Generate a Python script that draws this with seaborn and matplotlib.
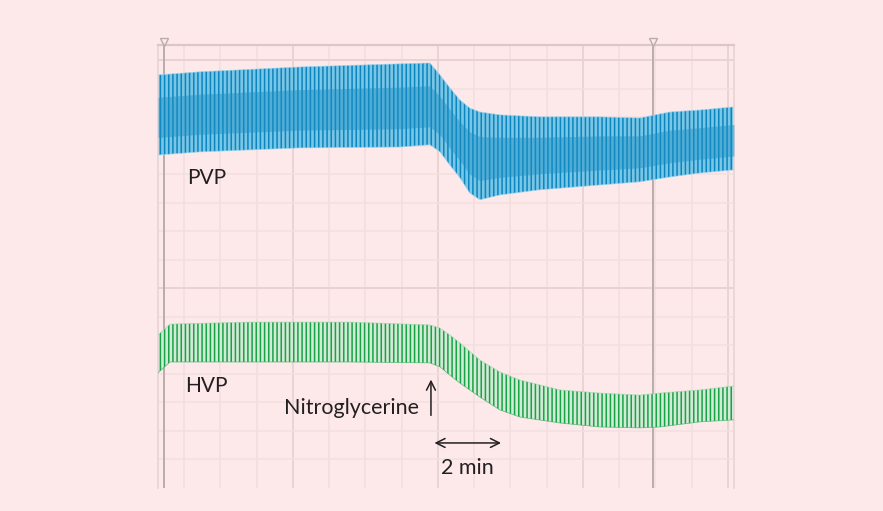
import numpy as np
import pandas as pd
import matplotlib
matplotlib.use("Agg")
import matplotlib.pyplot as plt
import seaborn as sns

# ---- data (time in minutes = grid divisions, level in grid divisions) ----
pvp_time  = [0.28, 1.43, 4.19, 6.95, 7.78, 8.06, 8.33, 8.61, 8.88, 9.16, 9.71, 10.81, 12.47, 13.57, 14.40, 15.23, 16.17]
pvp_upper = [14.49, 14.60, 14.77, 14.88, 14.91, 14.49, 14.04, 13.61, 13.33, 13.19, 13.09, 13.02, 13.02, 12.98, 13.19, 13.26, 13.37]
pvp_lower = [11.68, 11.79, 11.93, 11.96, 12.04, 11.79, 11.33, 10.88, 10.35, 10.11, 10.28, 10.46, 10.63, 10.74, 10.91, 11.05, 11.16]

hvp_time  = [0.28, 0.61, 2.81, 5.57, 7.78, 8.06, 8.33, 8.61, 9.16, 9.71, 10.26, 11.37, 12.47, 13.57, 14.12, 15.23, 16.17]
hvp_upper = [5.37, 5.75, 5.82, 5.82, 5.72, 5.61, 5.37, 5.09, 4.49, 4.07, 3.79, 3.44, 3.33, 3.26, 3.33, 3.44, 3.58]
hvp_lower = [4.04, 4.42, 4.42, 4.42, 4.39, 4.25, 3.96, 3.68, 3.19, 2.74, 2.49, 2.28, 2.14, 2.11, 2.14, 2.32, 2.39]

labels = ["PVP", "HVP"]
drug_label = "Nitroglycerine"
scale_label = "2 min"
drug_time = 7.81
scale_start, scale_end = 7.83, 9.82
marker_times = [0.44, 13.93]

BG = "#fde9ea"
sns.set_theme(style="white")
plt.rcParams["font.family"] = ["Lato", "DejaVu Sans"]
plt.rcParams["hatch.linewidth"] = 1.1

fig = plt.figure(figsize=(8.83, 5.11), dpi=100, facecolor=BG)
ax = fig.add_axes([158 / 883, 23 / 511, (734 - 158) / 883, (488 - 45) / 511])
ax.set_facecolor(BG)
x0, x1 = 0.28, 16.17
y0, y1 = 0.0, 15.54
ax.set_xlim(x0, x1)
ax.set_ylim(y0, y1)

# grid
for gx in range(1, 17):
    c = "#e6d0d0" if gx % 4 == 0 else "#f4dfe0"
    ax.axvline(gx, color=c, lw=1.2, zorder=0)
for gy in range(1, 16):
    c = "#e8d2d2" if gy in (7, 15) else "#f4dfe0"
    ax.axhline(gy, color=c, lw=1.4 if gy in (7, 15) else 1.1, zorder=0)
for s in ["left", "right"]:
    ax.spines[s].set_color("#e8d4d4")
    ax.spines[s].set_linewidth(1.2)
ax.spines["top"].set_color("#dcc6c6")
ax.spines["top"].set_linewidth(1.6)
ax.spines["bottom"].set_visible(False)
ax.set_xticks([])
ax.set_yticks([])

for mt in marker_times:
    ax.axvline(mt, color="#b9acac", lw=1.4, zorder=1)
    ax.plot([mt], [y1 + 0.12], marker="v", ms=6, mfc="none", mec="#b9acac",
            mew=1.0, clip_on=False, zorder=5)

# traces
pvp = pd.DataFrame({"t": pvp_time, "up": pvp_upper, "lo": pvp_lower})
hvp = pd.DataFrame({"t": hvp_time, "up": hvp_upper, "lo": hvp_lower})

ax.fill_between(pvp["t"], pvp["lo"], pvp["up"], facecolor="#7ac6e6",
                edgecolor="#0b86bf", hatch="||||", linewidth=0, zorder=2)
mid_lo = [l + (u - l) * 0.22 for l, u in zip(pvp_lower, pvp_upper)]
mid_up = [l + (u - l) * 0.72 for l, u in zip(pvp_lower, pvp_upper)]
ax.fill_between(pvp["t"], mid_lo, mid_up, facecolor="#1b8fc4", alpha=0.45,
                linewidth=0, zorder=3)
sns.lineplot(data=pvp, x="t", y="up", ax=ax, color="#9fd6ee", lw=0.6, alpha=0.7, zorder=3)
sns.lineplot(data=pvp, x="t", y="lo", ax=ax, color="#9fd6ee", lw=0.6, alpha=0.7, zorder=3)

ax.fill_between(hvp["t"], hvp["lo"], hvp["up"], facecolor="#d3ead6",
                edgecolor="#17a346", hatch="||||", linewidth=0, zorder=2)
sns.lineplot(data=hvp, x="t", y="up", ax=ax, color="#9fd6ad", lw=0.6, alpha=0.7, zorder=3)
sns.lineplot(data=hvp, x="t", y="lo", ax=ax, color="#3fb065", lw=0.6, alpha=0.7, zorder=3)
ax.set_xlabel("")
ax.set_ylabel("")

# annotations
tc = "#231f20"
ax.text(1.08, 10.88, labels[0], fontsize=15, color=tc, va="center", ha="left")
ax.text(1.02, 3.58, labels[1], fontsize=15, color=tc, va="center", ha="left")
ax.text(7.48, 2.81, drug_label, fontsize=15.5, color=tc, va="center", ha="right")
ax.annotate("", xy=(drug_time, 3.9), xytext=(drug_time, 2.45),
            arrowprops=dict(arrowstyle="->", color=tc, lw=1.1, mutation_scale=16))
ax.annotate("", xy=(scale_start, 1.58), xytext=(scale_end, 1.58),
            arrowprops=dict(arrowstyle="<->", color=tc, lw=1.1, mutation_scale=16))
ax.text((scale_start + scale_end) / 2, 0.70, scale_label, fontsize=15.5, color=tc,
        va="center", ha="center")

fig.savefig("out.png", dpi=100, facecolor=BG)
